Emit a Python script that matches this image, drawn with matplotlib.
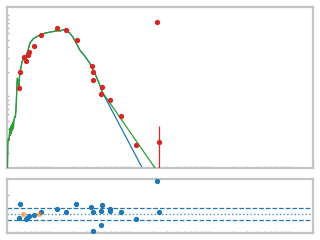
import numpy as np
import matplotlib
matplotlib.use("Agg")
import matplotlib.pyplot as plt
from matplotlib.ticker import LogLocator, MultipleLocator, NullFormatter

# Photometry (wavelength in micron, flux in arbitrary units)
phot_wave = [0.425, 0.438, 0.491, 0.520, 0.542, 0.557, 0.655, 0.801, 1.27, 1.65,
             2.22, 3.42, 3.56, 3.60, 4.60, 4.50, 5.84, 8.0, 12.2, 22.6, 23.9]
phot_flux = [1.28, 1.98, 3.01, 2.76, 3.24, 3.47, 4.14, 5.66, 6.92, 6.48,
             4.87, 2.39, 2.02, 1.61, 1.32, 1.08, 0.91, 0.578, 0.254, 8.13, 0.276]
phot_err = [0.08, 0.1, 0.15, 0.14, 0.16, 0.17, 0.2, 0.25, 0.3, 0.3,
            0.22, 0.1, 0.09, 0.07, 0.06, 0.05, 0.04, 0.03, 0.015, 0.3, 0.15]

# Model SED (shared part)
model_wave = [0.303, 0.307, 0.312, 0.316, 0.321, 0.325, 0.330, 0.335, 0.340, 0.345,
              0.350, 0.355, 0.360, 0.365, 0.371, 0.376, 0.381, 0.387, 0.393, 0.398,
              0.404, 0.410, 0.416, 0.422, 0.428, 0.434, 0.447, 0.460, 0.473,
              0.487, 0.516, 0.546, 0.579, 0.631, 0.688, 0.772, 0.891, 1.03, 1.19,
              1.30, 1.37, 1.50, 1.63, 1.73, 1.83, 2.00, 2.17, 2.44, 2.82,
              3.25, 3.76, 4.34, 4.60]
model_flux = [0.12, 0.286, 0.303, 0.286, 0.330, 0.403, 0.330, 0.427, 0.349, 0.451,
              0.380, 0.478, 0.403, 0.506, 0.535, 0.566, 0.551, 0.671, 0.893, 1.37,
              1.67, 1.58, 1.41, 1.29, 1.67, 1.98, 2.22, 2.63, 2.78,
              3.03, 3.12, 3.59, 4.51, 5.06, 5.35, 5.66, 6.00, 6.17, 6.34,
              6.44, 6.34, 6.62, 6.53, 6.34, 6.00, 5.35, 4.64, 3.70, 3.12,
              2.55, 1.92, 1.37, 1.15]
star_tail_wave = [16.5]
star_tail_flux = [0.106]
total_tail_wave = [24.6]
total_tail_flux = [0.106]

# Residuals
res_wave = [0.438, 0.425, 0.520, 0.531, 0.557, 0.655, 0.801, 1.27, 1.65, 2.19,
            3.38, 3.58, 3.60, 4.50, 4.63, 4.48, 5.84, 5.86, 8.0, 12.2, 22.6, 23.9]
res_val = [0.50, -0.22, -0.27, -0.19, -0.10, -0.02, 0.09, 0.24, 0.09, 0.50,
           0.39, 0.09, -0.84, 0.14, 0.45, -0.58, 0.24, 0.14, 0.09, -0.27, 1.68, 0.09]
res_excl_wave = [0.473, 0.756]
res_excl_val = [0.0, 0.0]
res_band = 0.3

fig = plt.figure(figsize=(3.2, 2.4), dpi=100)
ax = fig.add_axes([0.022, 0.302, 0.956, 0.669])
axr = fig.add_axes([0.022, 0.029, 0.956, 0.226])

red = '#d62728'
ax.plot(model_wave + star_tail_wave, model_flux + star_tail_flux, color='#1f77b4', lw=0.9, zorder=2)
ax.plot(model_wave + total_tail_wave, model_flux + total_tail_flux, color='#2ca02c', lw=0.9, zorder=3)
ax.errorbar(phot_wave, phot_flux, yerr=phot_err, fmt='o', color=red, ms=2.8,
            elinewidth=0.9, capsize=0, zorder=4)

ax.set_xscale('log')
ax.set_yscale('log')
ax.set_xlim(0.3, 2000)
ax.set_ylim(0.133, 12.6)

axr.axhline(0, color='#1f77b4', ls=':', lw=1.0, alpha=0.8, zorder=1)
axr.axhline(res_band, color='#1f77b4', ls='--', lw=0.9, zorder=1)
axr.axhline(-res_band, color='#1f77b4', ls='--', lw=0.9, zorder=1)
axr.plot(res_wave, res_val, 'o', color='#1f77b4', ms=2.8, zorder=3)
axr.plot(res_excl_wave, res_excl_val, 'o', color='#ff7f0e', ms=2.8, alpha=0.5, zorder=3)
axr.set_xscale('log')
axr.set_xlim(0.3, 2000)
axr.set_ylim(-0.97, 1.81)
axr.yaxis.set_major_locator(MultipleLocator(1))

for a in (ax, axr):
    for s in a.spines.values():
        s.set_color('#c4c4c4')
        s.set_linewidth(1.6)
    a.xaxis.set_major_locator(LogLocator(base=10, numticks=10))
    a.xaxis.set_minor_locator(LogLocator(base=10, subs=np.arange(2, 10), numticks=20))
    a.xaxis.set_minor_formatter(NullFormatter())
    a.tick_params(which='both', direction='in', length=1.5, width=1, color='#b8b8b8',
                  labelleft=False, labelbottom=False)

fig.savefig('out.png', dpi=100)
